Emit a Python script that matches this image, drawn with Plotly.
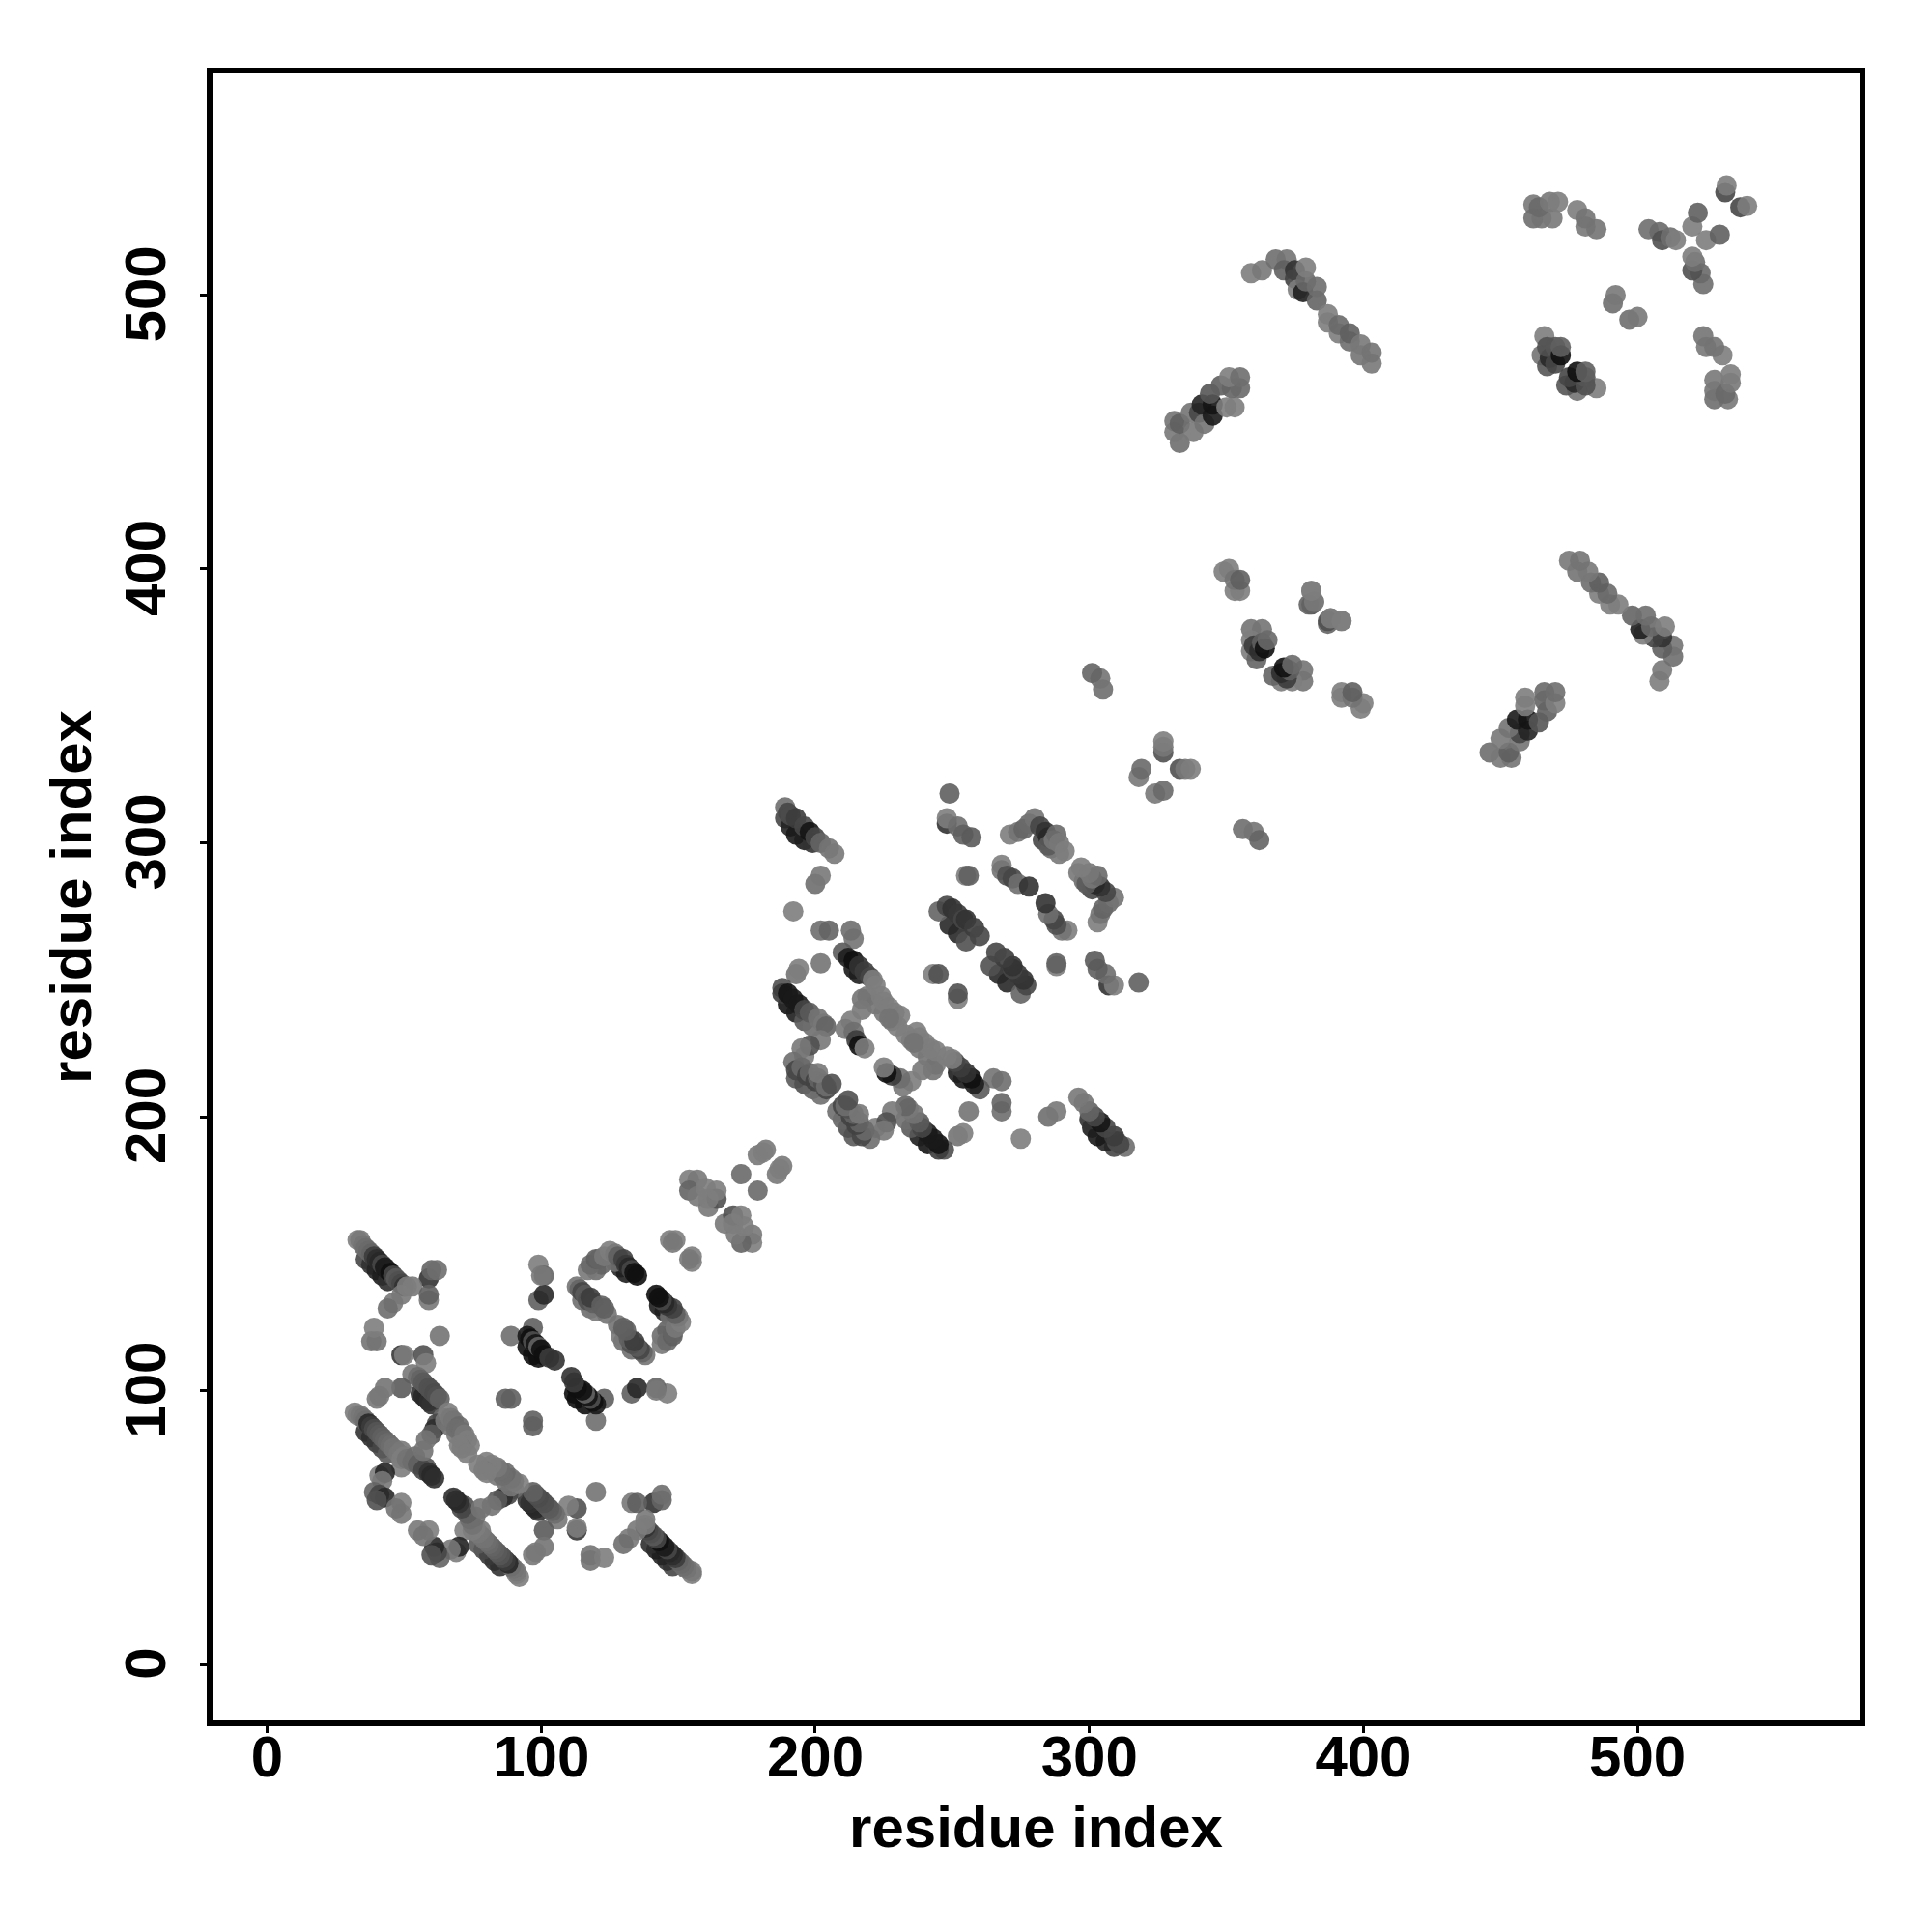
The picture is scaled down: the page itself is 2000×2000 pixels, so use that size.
import plotly.graph_objects as go

# Contacts, upper triangle only (residue i, residue j, grey level)
domain_a_outer = [
    (36,148,60),(38,146,40),(40,144,25),(42,142,20),(44,140,35),
    (33,155,115),(34,155,110),(35,153,105),(36,152,100),(37,151,95),(38,150,90),(39,149,50),(40,148,35),
    (41,147,30),(42,146,60),(43,145,15),(44,144,20),(45,143,5),(46,142,60),(47,141,80),(48,140,70),(49,139,60),(50,138,40),
    (59,141,40),(60,144,90),(62,144,100),(53,138,110),(59,133,110),(59,135,85),(49,135,110),(46,132,110),(44,130,100),(51,138,115),
    (38,118,105),(40,118,105),(39,123,115),(63,120,105),(49,113,45),(50,113,115),(57,113,70),(58,110,115),
]
domain_a_mid = [
    (56,99,40),(57,98,30),(58,97,30),(59,96,35),(60,95,40),
    (53,106,110),(55,105,100),(56,104,90),(57,103,80),(58,102,80),(59,101,70),(60,100,70),(61,99,65),(62,98,70),(63,97,85),
    (49,101,80),(43,101,105),(41,98,110),(40,97,110),
    (36,85,40),(38,83,35),(40,81,45),(42,79,60),(44,77,80),
    (32,92,115),(33,91,115),(34,91,110),(35,90,105),(36,89,100),(37,88,30),(38,87,50),(39,86,65),(40,85,75),(41,84,80),
    (42,83,85),(43,82,90),(44,81,95),(45,80,100),(46,79,105),(47,78,105),(48,77,110),(49,78,110),(50,76,115),(49,75,115),(49,72,115),
    (51,75,105),(53,74,100),(54,76,100),(55,73,85),(58,72,70),(57,71,60),(59,70,40),(60,69,30),(61,68,35),
    (64,90,95),(62,88,60),(61,86,35),(60,84,80),(58,82,105),(57,78,105),
    (65,89,110),(67,87,105),(69,84,110),(71,82,115),
    (66,92,115),(67,90,110),(68,89,105),(70,87,95),(69,86,100),(71,85,100),(72,84,110),(73,82,115),(74,80,115),(71,79,110),(70,80,115),(73,77,115),
    (41,69,115),(43,70,25),(42,67,110),(39,63,90),(41,62,60),(43,61,30),(40,60,70),(49,59,115),(49,55,110),(47,57,105),
]
domain_a_inner = [
    (89,120,100),(97,123,85),(95,116,5),(97,113,5),(99,112,5),
    (95,120,15),(96,119,5),(97,118,70),(98,117,10),(99,116,90),(100,115,5),(101,113,5),(103,112,50),(105,111,40),
    (87,97,85),(89,97,85),(99,146,115),(101,142,90),(99,133,85),(101,135,30),(100,142,110),
    (115,133,100),(118,130,100),(120,129,110),
    (113,138,105),(114,137,90),(115,136,60),(116,135,80),(117,133,70),(119,132,85),(118,134,50),(122,131,85),(124,128,105),(123,130,85),
    (129,145,30),(131,143,20),(120,144,100),(122,146,90),(127,147,100),
    (117,144,110),(118,146,95),(120,148,85),(121,148,90),(123,149,110),(125,151,115),(127,150,110),(128,149,85),(130,148,55),
    (131,146,45),(132,145,30),(133,144,60),(134,143,5),(135,142,5),
    (147,155,115),(149,155,115),(148,154,110),
    (154,177,115),(157,177,110),(154,173,90),(157,171,110),(160,174,115),(161,167,110),(164,170,70),(161,170,115),(164,173,115),
    (173,179,95),(179,186,110),(182,188,110),(181,187,115),
]
domain_b_left = [
    (189,309,60),(191,306,25),(193,303,15),(196,301,20),(199,300,40),
    (189,313,100),(190,311,60),(191,310,65),(193,309,50),(196,306,60),(198,304,10),(200,302,60),(202,300,90),(205,298,105),(207,296,110),
    (200,285,100),(202,288,110),(192,275,115),(202,268,100),(205,268,90),(214,265,105),(213,268,100),
    (214,254,15),(216,252,20),
    (210,260,80),(212,258,20),(214,257,5),(216,255,40),(218,253,50),(220,251,60),(221,250,115),
    (202,256,105),(193,252,105),(194,254,115),
    (190,241,10),(193,238,20),(196,235,80),(199,233,100),
    (188,247,70),(188,245,50),(190,245,10),(192,243,15),(194,241,15),(196,239,60),(198,238,80),(201,236,105),(203,234,110),(204,233,90),
    (219,244,110),(222,241,105),(225,238,110),(228,235,110),(230,233,115),
    (217,243,105),(217,239,110),(222,248,115),(224,244,115),(225,242,115),(227,240,115),(229,238,115),(231,237,115),(227,236,105),
    (213,235,115),(211,232,110),(214,231,100),(215,228,50),(216,226,5),(218,225,115),
    (196,222,115),(202,228,110),(198,226,70),(195,225,110),
    (193,214,80),(196,212,70),(199,210,90),(202,208,100),
    (192,220,100),(193,217,60),(195,218,95),(197,215,55),(198,216,90),(200,213,55),(201,214,90),(204,210,60),(203,212,70),(204,211,100),(201,216,110),(206,212,70),
]
domain_b_right = [
    (249,318,85),(248,307,40),(248,309,115),(252,306,100),(254,303,85),(257,302,80),
    (255,288,115),(256,288,85),
    (268,292,115),(268,290,105),(270,288,70),(272,287,60),(274,285,100),(278,284,40),
    (283,301,60),(286,298,100),(289,296,110),
    (271,303,115),(274,304,105),(276,305,90),(278,307,95),(280,309,105),(282,306,60),(284,304,40),(285,302,30),(285,299,80),
    (287,301,110),(288,303,95),(289,300,110),(291,297,115),
    (249,270,30),(252,267,30),(255,264,70),
    (245,275,90),(248,277,60),(250,276,40),(252,274,45),(254,272,60),(255,272,40),(258,269,50),(260,266,60),
    (243,252,115),(245,252,70),
]
domain_c = [
    (327,333,70),(327,335,110),(327,337,115),(318,324,110),(319,327,95),
    (349,399,115),(351,400,115),(353,392,115),(355,392,115),(353,396,105),(355,396,85),
    (305,356,100),(304,360,105),(301,362,90),
    (381,387,70),(382,388,115),(381,392,115),(387,380,90),(388,382,110),(392,381,115),
    (359,378,105),(363,378,105),(359,374,115),(359,370,115),(361,367,90),(360,372,50),(362,370,35),(363,373,85),(364,371,5),(365,374,95),
    (359,508,115),(363,509,110),(368,513,100),(372,513,105),(371,509,85),(375,509,40),(375,506,55),(376,502,115),(378,501,20),(379,505,95),
    (379,510,115),(383,498,90),(383,503,100),(387,490,115),(387,493,115),(391,486,115),(391,489,95),(395,483,100),(395,486,85),
    (399,478,105),(403,475,110),(399,482,110),(403,479,105),
    (333,446,100),(331,450,110),(331,454,105),(333,453,85),(338,450,110),(337,457,105),(340,457,60),(342,453,105),(341,460,25),(345,456,15),
    (345,460,10),(344,464,75),(348,467,85),(350,459,115),(353,459,115),(352,466,90),(355,466,95),(351,470,115),(355,470,100),
]
domain_d = [
    (462,533,110),(462,528,100),(465,528,105),(469,528,110),(464,532,95),(468,534,110),(471,534,115),(478,531,115),(481,525,110),(481,528,105),(485,524,105),
    (504,524,100),(508,523,95),(509,520,70),(512,521,100),(514,520,115),(520,525,115),(522,530,85),(532,537.5,60),(532.5,540,115),
    (491,497,100),(492,500,110),
    (466,485,115),(465,478,105),(467,474,75),(468,477,30),(470,475,60),(467,481,70),(470,481,75),(472,478,5),(472,481,85),
]

tick_values = [0, 100, 200, 300, 400, 500]
axis_label = "residue index"

contacts = domain_a_outer + domain_a_mid + domain_a_inner + domain_b_left + domain_b_right + domain_c + domain_d
res_i = [c[0] for c in contacts]
res_j = [c[1] for c in contacts]
grey = [f"rgb({c[2]+10},{c[2]+10},{c[2]+10})" for c in contacts]

fig = go.Figure(go.Scatter(
    x=res_i + res_j, y=res_j + res_i, mode="markers",
    marker=dict(size=21, color=grey + grey, opacity=0.9, line=dict(width=0)),
    showlegend=False,
))

tickfont = dict(family="Liberation Sans", size=60, color="black", weight=700)
titlefont = dict(family="Liberation Sans", size=60, color="black", weight=700)
axis_common = dict(
    tickmode="array", tickvals=tick_values, ticks="outside", ticklen=7, tickwidth=3, tickcolor="black",
    showline=True, linecolor="black", linewidth=5.6, mirror=True, showgrid=False, zeroline=False,
    tickfont=tickfont, automargin=False,
)
fig.update_layout(
    width=2000, height=2000, paper_bgcolor="white", plot_bgcolor="white",
    margin=dict(l=211.5, r=83, t=67.5, b=227, pad=0),
    xaxis=dict(range=[-19.9, 581.0], title=dict(text=axis_label, font=titlefont, standoff=21),
               ticklabelstandoff=-27, **axis_common),
    yaxis=dict(range=[-20.4, 580.9], title=dict(text=axis_label, font=titlefont, standoff=5),
               tickangle=-90, ticklabelstandoff=12, ticklabelshift=8, **axis_common),
)
fig.write_html("out.html")
